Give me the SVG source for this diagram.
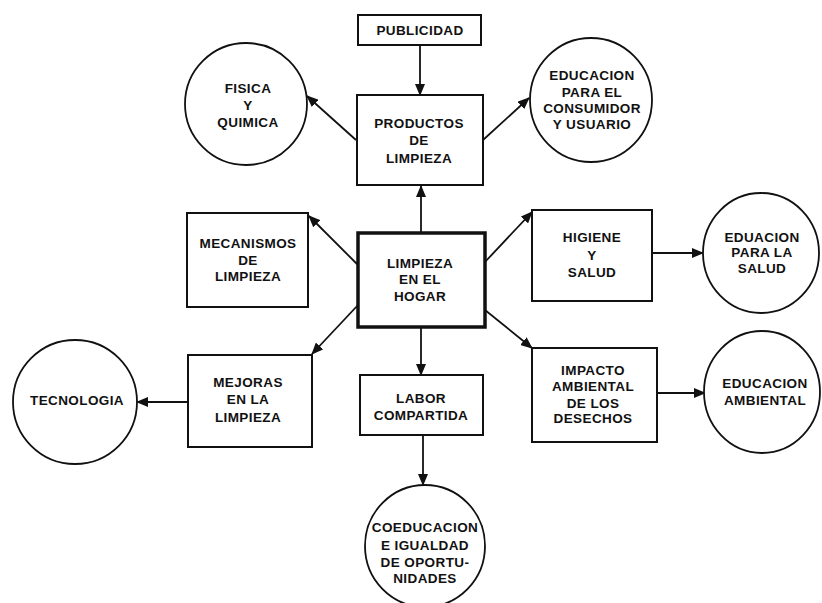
<svg xmlns="http://www.w3.org/2000/svg" width="822" height="603" viewBox="0 0 822 603">
<defs>
<marker id="ah" viewBox="0 0 12 10" refX="11" refY="5" markerWidth="12" markerHeight="10" markerUnits="userSpaceOnUse" orient="auto">
<path d="M0,0 L12,5 L0,10 Z" fill="#111"/>
</marker>
<style>
.box{fill:#fff;stroke:#111;stroke-width:2}
.main{fill:#fff;stroke:#111;stroke-width:3.5}
.circ{fill:#fff;stroke:#111;stroke-width:1.8}
.t{font-family:"Liberation Sans",Arial,sans-serif;font-size:13.5px;font-weight:bold;fill:#111;text-anchor:middle;letter-spacing:0.4px}
.c{fill:none;stroke:#111;stroke-width:1.8;marker-end:url(#ah)}
</style>
</defs>
<rect width="822" height="603" fill="#fff"/>
<g id="connectors">
<line class="c" x1="420" y1="45" x2="420" y2="95"/>
<line class="c" x1="356" y1="140" x2="307" y2="96"/>
<line class="c" x1="483" y1="140" x2="529" y2="98"/>
<line class="c" x1="421" y1="233" x2="421" y2="186"/>
<line class="c" x1="358" y1="265" x2="309" y2="216"/>
<line class="c" x1="485" y1="262" x2="532" y2="212"/>
<line class="c" x1="652" y1="253" x2="703" y2="253"/>
<line class="c" x1="358" y1="305" x2="312" y2="354"/>
<line class="c" x1="188" y1="402" x2="137" y2="402"/>
<line class="c" x1="421" y1="327" x2="421" y2="375"/>
<line class="c" x1="485" y1="310" x2="532" y2="348"/>
<line class="c" x1="657" y1="393" x2="705" y2="393"/>
<line class="c" x1="423" y1="435" x2="423" y2="485"/>
</g>
<g id="publicidad">
<rect class="box" x="358" y="15" width="123" height="30"/>
<text class="t" x="420" y="35">PUBLICIDAD</text>
</g>
<g id="productos">
<rect class="box" x="357" y="95" width="126" height="90"/>
<text class="t" x="419" y="128">PRODUCTOS</text>
<text class="t" x="419" y="145">DE</text>
<text class="t" x="419" y="163">LIMPIEZA</text>
</g>
<g id="fisica">
<ellipse class="circ" cx="246" cy="104" rx="61" ry="61"/>
<text class="t" x="248" y="93">FISICA</text>
<text class="t" x="248" y="110">Y</text>
<text class="t" x="248" y="127">QUIMICA</text>
</g>
<g id="consumidor">
<ellipse class="circ" cx="591" cy="100" rx="61" ry="62"/>
<text class="t" x="592" y="80">EDUCACION</text>
<text class="t" x="592" y="97">PARA EL</text>
<text class="t" x="592" y="113">CONSUMIDOR</text>
<text class="t" x="592" y="129">Y USUARIO</text>
</g>
<g id="hogar">
<rect class="main" x="358" y="233" width="127" height="94"/>
<text class="t" x="420" y="268">LIMPIEZA</text>
<text class="t" x="420" y="284">EN EL</text>
<text class="t" x="420" y="301">HOGAR</text>
</g>
<g id="mecanismos">
<rect class="box" x="187" y="213" width="121" height="94"/>
<text class="t" x="248" y="248">MECANISMOS</text>
<text class="t" x="248" y="265">DE</text>
<text class="t" x="248" y="281">LIMPIEZA</text>
</g>
<g id="higiene">
<rect class="box" x="532" y="210" width="120" height="91"/>
<text class="t" x="592" y="242">HIGIENE</text>
<text class="t" x="592" y="260">Y</text>
<text class="t" x="592" y="277">SALUD</text>
</g>
<g id="salud">
<ellipse class="circ" cx="761" cy="253" rx="58" ry="60"/>
<text class="t" x="762" y="242">EDUACION</text>
<text class="t" x="762" y="257">PARA LA</text>
<text class="t" x="762" y="273">SALUD</text>
</g>
<g id="mejoras">
<rect class="box" x="188" y="355" width="124" height="92"/>
<text class="t" x="248" y="387">MEJORAS</text>
<text class="t" x="248" y="404">EN LA</text>
<text class="t" x="248" y="422">LIMPIEZA</text>
</g>
<g id="tecnologia">
<ellipse class="circ" cx="75" cy="402" rx="62" ry="62"/>
<text class="t" x="77" y="405">TECNOLOGIA</text>
</g>
<g id="labor">
<rect class="box" x="360" y="375" width="123" height="60"/>
<text class="t" x="421" y="403">LABOR</text>
<text class="t" x="421" y="420">COMPARTIDA</text>
</g>
<g id="impacto">
<rect class="box" x="532" y="348" width="125" height="94"/>
<text class="t" x="593" y="375">IMPACTO</text>
<text class="t" x="593" y="391">AMBIENTAL</text>
<text class="t" x="593" y="408">DE LOS</text>
<text class="t" x="593" y="423">DESECHOS</text>
</g>
<g id="ambiental">
<ellipse class="circ" cx="762" cy="392" rx="58" ry="61"/>
<text class="t" x="765" y="388">EDUCACION</text>
<text class="t" x="765" y="405">AMBIENTAL</text>
</g>
<g id="coeducacion">
<ellipse class="circ" cx="425" cy="546" rx="60" ry="61"/>
<text class="t" x="425" y="532">COEDUCACION</text>
<text class="t" x="425" y="550">E IGUALDAD</text>
<text class="t" x="425" y="567">DE OPORTU-</text>
<text class="t" x="425" y="583">NIDADES</text>
</g>
</svg>
